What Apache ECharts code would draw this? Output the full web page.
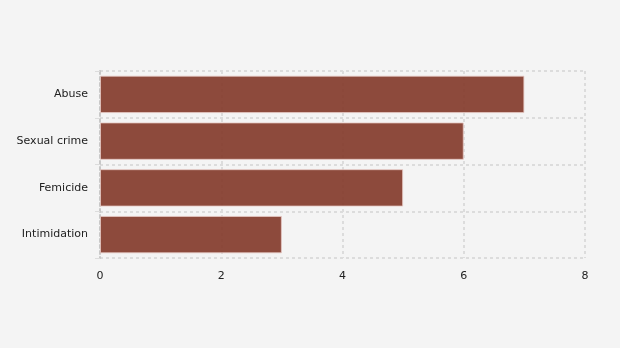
<!DOCTYPE html>
<html><head><meta charset="utf-8">
<script src="https://cdn.jsdelivr.net/npm/echarts@6/dist/echarts.min.js"></script>
<style>html,body{margin:0;padding:0;background:#f4f4f4}#c{width:620px;height:348px}</style>
</head><body><div id="c"></div>
<script>
const categories = ['Abuse', 'Sexual crime', 'Femicide', 'Intimidation'];
const values = [7, 6, 5, 3];
const xTicks = [0, 2, 4, 6, 8];

const chart = echarts.init(document.getElementById('c'), null, {renderer: 'canvas'});
const gridLine = {show: true, lineStyle: {color: '#dcdcdc', type: [3, 3], width: 2}};
chart.setOption({
  backgroundColor: '#f4f4f4',
  animation: false,
  grid: {left: 100, right: 35, top: 71, bottom: 90, show: false},
  xAxis: {
    type: 'value', min: xTicks[0], max: xTicks[xTicks.length - 1], interval: 2,
    axisLine: {show: false}, axisTick: {show: false},
    axisLabel: {color: '#222', fontSize: 11, fontFamily: 'DejaVu Sans', margin: 13},
    splitLine: gridLine
  },
  yAxis: {
    type: 'category', data: categories, inverse: true,
    axisLine: {show: true, lineStyle: {color: '#c8c8c8', type: [3, 3], width: 2}},
    axisTick: {show: true, length: 5, lineStyle: {color: '#dcdcdc', width: 1}},
    axisLabel: {color: '#222', fontSize: 11, fontFamily: 'DejaVu Sans', margin: 12},
    splitLine: gridLine
  },
  series: [{
    type: 'bar', data: values, barCategoryGap: '20%',
    itemStyle: {color: 'rgba(130,55,40,0.9)', borderColor: 'rgba(230,200,195,0.8)', borderWidth: 1}
  }]
});
</script></body></html>
